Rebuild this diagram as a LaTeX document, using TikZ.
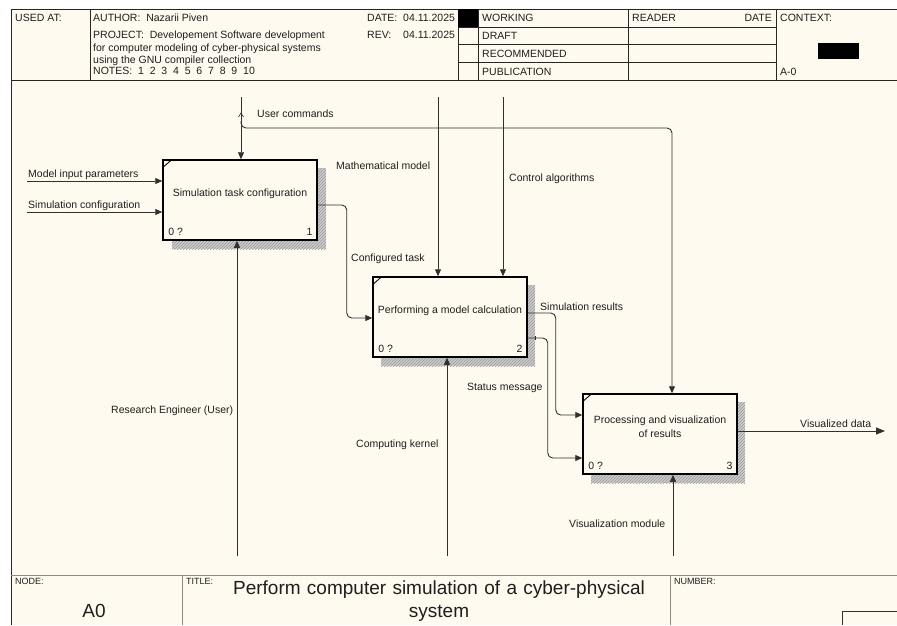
\documentclass[tikz,border=0pt]{standalone}
\usepackage{fontspec}
\setmainfont{Liberation Sans}
\usetikzlibrary{arrows.meta,patterns,calc}
\definecolor{paper}{HTML}{FFFAF0}
\definecolor{ink}{HTML}{1E1E1E}
\definecolor{wire}{HTML}{303030}
\definecolor{rulegray}{HTML}{8A8A8A}

\begin{document}
\begin{tikzpicture}[x=1pt,y=-1pt,
  lbl/.style={font=\fontsize{10.5}{12.5}\selectfont, text=ink, inner sep=0pt,
              text height=10.5pt, text depth=1pt},
  lab/.style={lbl, anchor=west},
  tiny/.style={font=\fontsize{9}{10}\selectfont, text=ink, inner sep=0pt, anchor=north west},
  big/.style={font=\fontsize{19}{23}\selectfont, text=ink, inner sep=0pt, align=center},
  func/.style={draw=black, line width=1.5pt, fill=paper, minimum width=154pt,
               minimum height=80pt, inner sep=0pt},
  shade/.style={pattern=north east lines, pattern color=gray!80, preaction={fill=gray!40}},
  frame/.style={draw=black!85, line width=0.8pt},
  softframe/.style={draw=rulegray, line width=1pt},
  flow/.style={draw=wire, line width=0.9pt, rounded corners=5pt,
               -{Triangle[length=7pt,width=6pt]}},
]
% page and form background
\useasboundingbox (0,0) rectangle (897,625);
\fill[white] (0,0) rectangle (897,625);
\fill[paper] (11,9) rectangle (897,625);

% ---------- header ----------
\draw[frame] (11,625) -- (11,9) -- (897,9);
\draw[frame] (11,80) -- (897,80);
\draw[frame] (90,9) -- (90,80);
\draw[frame] (458,9) -- (458,80);
\draw[frame] (478,9) -- (478,80);
\draw[frame] (628,9) -- (628,80);
\draw[frame] (776,9) -- (776,80);
\draw[frame] (458,27) -- (776,27);
\draw[frame] (458,44) -- (776,44);
\draw[frame] (458,62) -- (776,62);
\fill[black] (458,9) rectangle (478,27);
\fill[black] (818,43) rectangle (859,59);

\node[lab] (usedat) at (15,17) {USED AT:};
\node[lab] (author) at (93,17) {AUTHOR:\ \ Nazarii Piven};
\node[lab] (proj1) at (93,34) {PROJECT:\ \ Developement Software development};
\node[lab] (proj2) at (93,47) {for computer modeling of cyber-physical systems};
\node[lab] (proj3) at (93,59) {using the GNU compiler collection};
\node[lab] (notes) at (93,70) {NOTES:\ \ 1\ \ 2\ \ 3\ \ 4\ \ 5\ \ 6\ \ 7\ \ 8\ \ 9\ \ 10};
\node[lab] (datek) at (367,17) {DATE:};
\node[lab] (datev) at (403,17) {04.11.2025};
\node[lab] (revk) at (367,34) {REV:};
\node[lab] (revv) at (403,34) {04.11.2025};
\node[lab] (working) at (482,17) {WORKING};
\node[lab] (draft) at (482,35) {DRAFT};
\node[lab] (recom) at (482,53) {RECOMMENDED};
\node[lab] (publ) at (482,71) {PUBLICATION};
\node[lab] (reader) at (632,17) {READER};
\node[lbl, anchor=east] (rdate) at (772,17) {DATE};
\node[lab] (context) at (780,17) {CONTEXT:};
\node[lab] (azero) at (780,71) {A-0};

% ---------- footer ----------
\draw[softframe] (11,575) -- (897,575);
\draw[softframe] (182,575) -- (182,625);
\draw[softframe] (670,575) -- (670,625);
\draw[draw=black!80, line width=0.8pt] (897,611) -- (842,611) -- (842,625);
\node[tiny] (nodek) at (15,578) {NODE:};
\node[tiny] (titlek) at (186,578) {TITLE:};
\node[tiny] (numk) at (674,578) {NUMBER:};
\node[big] (nodev) at (94,611) {A0};
\node[big, text width=440pt] (title) at (439,601) {Perform computer simulation of a cyber-physical\\system};

% ---------- activity boxes ----------
\fill[shade] (172,168) rectangle (326,249);
\fill[shade] (381,285) rectangle (535,366);
\fill[shade] (591,402) rectangle (745,483);

\node[func] (b1) at (240,200) {};
\node[func] (b2) at (450,317) {};
\node[func] (b3) at (660,434) {};

\foreach \b in {b1,b2,b3}{
  \draw[line width=0.9pt] ($(\b.north west)+(0.8,8)$) -- ($(\b.north west)+(9,0.8)$);
}

\node[lbl] (t1) at ($(b1.center)+(0,-8)$) {Simulation task configuration};
\node[lbl] (t2) at ($(b2.center)+(0,-8)$) {Performing a model calculation};
\node[lbl, align=center, text height=, text depth=, font=\fontsize{10.5}{14}\selectfont]
  (t3) at ($(b3.center)+(0,-7.5)$) {Processing and visualization\\of results};

\node[lbl, anchor=base west] (c1) at ($(b1.south west)+(6,-5)$) {0 ?};
\node[lbl, anchor=base east] (n1) at ($(b1.south east)+(-5,-5)$) {1};
\node[lbl, anchor=base west] (c2) at ($(b2.south west)+(6,-5)$) {0 ?};
\node[lbl, anchor=base east] (n2) at ($(b2.south east)+(-5,-5)$) {2};
\node[lbl, anchor=base west] (c3) at ($(b3.south west)+(6,-5)$) {0 ?};
\node[lbl, anchor=base east] (n3) at ($(b3.south east)+(-5,-5)$) {3};

% ---------- connector end points ----------
\coordinate (in1) at (27,181);
\coordinate (in2) at (27,212);
\coordinate (uc) at (241,97);
\coordinate (ucb) at (241,121);
\coordinate (ucturn) at (672,128);
\coordinate (mm) at (438,97);
\coordinate (ca) at (503,97);
\coordinate (re) at (237,556);
\coordinate (ck) at (447,556);
\coordinate (vm) at (673,556);
\coordinate (vd) at (885,431);

% inputs
\draw[flow] (in1) -- (in1 -| b1.west);
\draw[flow] (in2) -- (in2 -| b1.west);
% controls
\draw[flow] (uc) -- (uc |- b1.north);
\draw[flow] (ucb) |- (ucturn) -- (ucturn |- b3.north);
\draw[draw=wire, line width=0.6pt] (238.5,117) -- (241,113) -- (243.5,117);
\draw[flow] (mm) -- (mm |- b2.north);
\draw[flow] (ca) -- (ca |- b2.north);
% box to box
\draw[flow] ([yshift=-5pt]b1.east) -- ++(29,0) |- ([yshift=-1pt]b2.west);
\draw[flow] ([yshift=4pt]b2.east) -- ++(28,0) |- ([yshift=19pt]b3.west);
\draw[flow] ([yshift=-21pt]b2.east) -- ++(20,0) |- ([yshift=-24pt]b3.west);
\draw[draw=wire, line width=0.8pt] (535.5,336) -- (535.5,340);
% mechanisms
\draw[flow] (re) -- (re |- b1.south);
\draw[flow] (ck) -- (ck |- b2.south);
\draw[flow] (vm) -- (vm |- b3.south);
% output
\draw[flow, -{Triangle[length=9pt,width=7pt]}] ([yshift=3pt]b3.east) -- (vd);

% ---------- connector labels ----------
\node[lab] (l_in1) at (28,173) {Model input parameters};
\node[lab] (l_in2) at (28,204) {Simulation configuration};
\node[lab] (l_uc) at (257,113) {User commands};
\node[lab] (l_mm) at (336,165) {Mathematical model};
\node[lab] (l_ca) at (509,177) {Control algorithms};
\node[lab] (l_ct) at (351,257) {Configured task};
\node[lab] (l_sr) at (540,306) {Simulation results};
\node[lab] (l_sm) at (467,386) {Status message};
\node[lab] (l_re) at (111,409) {Research Engineer (User)};
\node[lab] (l_ck) at (356,443) {Computing kernel};
\node[lab] (l_vm) at (569,523) {Visualization module};
\node[lab] (l_vd) at (800,423) {Visualized data};
\end{tikzpicture}
\end{document}
